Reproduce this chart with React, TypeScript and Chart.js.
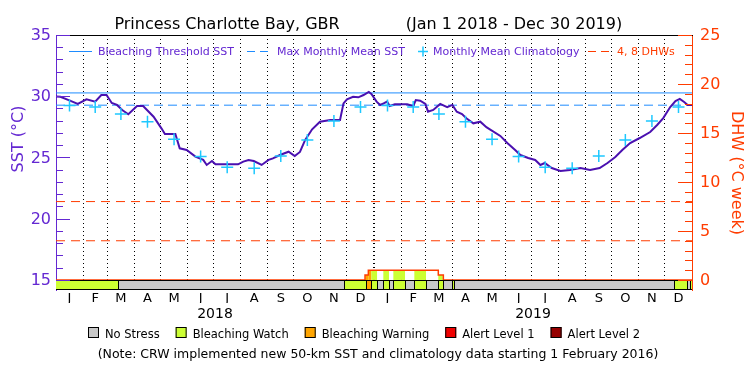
import React, { useEffect, useRef } from 'react';
import { Chart, registerables } from 'chart.js';

Chart.register(...registerables);

// ---------------- data ----------------
const TITLE_SITE = 'Princess Charlotte Bay, GBR';
const TITLE_RANGE = '(Jan 1 2018 - Dec 30 2019)';

const MONTH_LETTERS = ['J', 'F', 'M', 'A', 'M', 'J', 'J', 'A', 'S', 'O', 'N', 'D'];
const MONTH_START_DAYS = [0, 31, 59, 90, 120, 151, 181, 212, 243, 273, 304, 334, 365, 396, 424, 455, 485, 516, 546, 577, 608, 638, 669, 699, 730];
const YEAR_LABELS = ['2018', '2019'];
const YEAR_START_DAYS = [0, 365, 730];

// daily SST (day offset from Jan 1 2018)
const SST_DAYS = [0, 5, 16, 25, 35, 45, 52, 58, 64, 70, 76, 83, 93, 100, 112, 121, 125, 137, 142, 150, 160, 169, 173, 179, 183, 209, 215, 221, 227, 236, 244, 249, 257, 267, 274, 280, 286, 294, 303, 315, 326, 330, 334, 341, 347, 353, 359, 362, 368, 372, 376, 380, 383, 389, 403, 410, 413, 418, 424, 427, 433, 441, 449, 455, 460, 466, 471, 479, 487, 494, 498, 510, 518, 527, 533, 542, 550, 556, 561, 569, 579, 590, 602, 613, 624, 633, 642, 650, 659, 670, 682, 690, 697, 705, 711, 716, 721, 725, 730];
const SST_VALUES = [29.98, 29.96, 29.64, 29.37, 29.75, 29.56, 30.10, 30.10, 29.45, 29.29, 28.88, 28.53, 29.20, 29.20, 28.33, 27.38, 26.92, 26.92, 25.75, 25.61, 25.07, 24.80, 24.39, 24.71, 24.44, 24.44, 24.66, 24.80, 24.71, 24.39, 24.80, 24.93, 25.20, 25.47, 25.12, 25.45, 26.43, 27.30, 27.92, 28.06, 28.06, 29.42, 29.75, 29.96, 29.91, 30.10, 30.35, 30.18, 29.56, 29.29, 29.42, 29.56, 29.20, 29.34, 29.34, 29.20, 29.69, 29.64, 29.37, 28.74, 28.88, 29.37, 29.10, 29.29, 28.74, 28.55, 28.20, 27.79, 27.92, 27.47, 27.30, 26.76, 26.18, 25.61, 25.20, 24.96, 24.80, 24.39, 24.55, 24.14, 23.90, 23.98, 24.14, 23.98, 24.14, 24.55, 25.04, 25.61, 26.18, 26.59, 27.08, 27.65, 28.22, 29.12, 29.61, 29.78, 29.53, 29.29, 29.29];

const CLIMATOLOGY = [29.25, 29.12, 28.55, 27.92, 26.49, 25.07, 24.20, 24.12, 25.12, 26.43, 27.98, 29.12];

const MMM_SST = 29.27;
const THRESHOLD_SST = 30.27;
const DHW_GUIDES = [4, 8];

const DHW_DAYS = [0, 354.7, 358.5, 438.8, 444.6, 730];
const DHW_VALUES = [0, 0.5, 1.0, 0.5, 0, 0];

const STRESS_NAMES = ['No Stress', 'Bleaching Watch', 'Bleaching Warning', 'Alert Level 1', 'Alert Level 2'];
const STRESS_COLORS = ['#c8c8c8', '#ccff33', '#ffa500', '#f00000', '#960000'];
const STRESS_START_DAYS = [0, 71.5, 331, 355.5, 362, 368.5, 375.7, 382.2, 387.2, 400.6, 411.3, 424.7, 438.8, 443.9, 454, 457.2, 709.4, 724.6, 727.2, 730];
const STRESS_LEVELS = [1, 0, 1, 2, 1, 0, 1, 0, 1, 0, 1, 0, 1, 0, 1, 0, 1, 0, 1];

const SST_TICKS = [15, 20, 25, 30, 35];
const DHW_TICKS = [0, 5, 10, 15, 20, 25];
const SST_RANGE = [14.18, 35];
const DHW_RANGE = [(14.18 - 15) / 0.8, 25];

const NOTE = '(Note: CRW implemented new 50-km SST and climatology data starting 1 February 2016)';
const LEGEND_TOP = ['Bleaching Threshold SST', 'Max Monthly Mean SST', 'Monthly Mean Climatology', '4, 8 DHWs'];

// ---------------- styles ----------------
const FONT = '"DejaVu Sans", sans-serif';
const PURPLE = '#6428d2';
const SST_LINE = '#4a10b0';
const BLUE = '#1e8cff';
const CYAN = '#1ec8ff';
const RED = '#ff3c00';

const decorPlugin = {
  id: 'decor',
  beforeDatasetsDraw(chart: any) {
    const { ctx, scales, chartArea } = chart;
    const xs = scales.x;
    const y2 = scales.y2;
    ctx.save();
    ctx.beginPath();
    ctx.rect(chartArea.left, chartArea.top, chartArea.right - chartArea.left, chartArea.bottom - chartArea.top);
    ctx.clip();
    for (let i = 0; i < STRESS_LEVELS.length; i++) {
      const lvl = STRESS_LEVELS[i];
      if (lvl === 0) continue;
      const s = STRESS_START_DAYS[i];
      const e = STRESS_START_DAYS[i + 1];
      for (let j = 0; j < DHW_DAYS.length - 1; j++) {
        const v = DHW_VALUES[j];
        if (v <= 0) continue;
        const a = Math.max(s, DHW_DAYS[j]);
        const b = Math.min(e, DHW_DAYS[j + 1]);
        if (b <= a) continue;
        const x0 = xs.getPixelForValue(a);
        const x1 = xs.getPixelForValue(b);
        const yt = y2.getPixelForValue(v);
        const yb = y2.getPixelForValue(0);
        ctx.fillStyle = STRESS_COLORS[lvl];
        ctx.fillRect(x0, yt, x1 - x0, yb - yt);
      }
    }
    ctx.restore();
  },
  afterDatasetsDraw(chart: any) {
    const { ctx, scales, chartArea } = chart;
    const xs = scales.x;
    const ys = scales.y;
    const y2 = scales.y2;
    // stress bar
    const yTop = Math.round(ys.getPixelForValue(15));
    const yBot = Math.round(ys.getPixelForValue(SST_RANGE[0]));
    ctx.save();
    for (let i = 0; i < STRESS_LEVELS.length; i++) {
      const x0 = Math.round(xs.getPixelForValue(STRESS_START_DAYS[i]));
      const x1 = Math.round(xs.getPixelForValue(STRESS_START_DAYS[i + 1]));
      ctx.fillStyle = STRESS_COLORS[STRESS_LEVELS[i]];
      ctx.fillRect(x0, yTop, x1 - x0, yBot - yTop);
    }
    ctx.strokeStyle = '#000';
    ctx.lineWidth = 1;
    ctx.beginPath();
    ctx.moveTo(chartArea.left, yTop + 0.5);
    ctx.lineTo(chartArea.right, yTop + 0.5);
    ctx.moveTo(chartArea.left, yBot - 0.5);
    ctx.lineTo(chartArea.right, yBot - 0.5);
    for (let i = 1; i < STRESS_START_DAYS.length - 1; i++) {
      const x = Math.round(xs.getPixelForValue(STRESS_START_DAYS[i])) + 0.5;
      ctx.moveTo(x, yTop);
      ctx.lineTo(x, yBot);
    }
    ctx.stroke();
    // top border
    ctx.beginPath();
    ctx.moveTo(chartArea.left, chartArea.top + 0.5);
    ctx.lineTo(chartArea.right + 1, chartArea.top + 0.5);
    ctx.stroke();
    // inward tick marks
    ctx.strokeStyle = PURPLE;
    ctx.beginPath();
    for (let v = 15; v <= 35; v++) {
      const y = Math.round(ys.getPixelForValue(v)) + 0.5;
      const len = v % 5 === 0 ? 14 : 7;
      ctx.moveTo(chartArea.left, y);
      ctx.lineTo(chartArea.left + len, y);
    }
    ctx.stroke();
    ctx.strokeStyle = RED;
    ctx.beginPath();
    for (let v = 0; v <= 25; v++) {
      const y = Math.round(y2.getPixelForValue(v)) + 0.5;
      const len = v % 5 === 0 ? 14 : 7;
      ctx.moveTo(chartArea.right, y);
      ctx.lineTo(chartArea.right - len, y);
    }
    ctx.stroke();
    ctx.restore();
  },
  afterDraw(chart: any) {
    const { ctx } = chart;
    ctx.save();
    // title
    ctx.fillStyle = '#000';
    ctx.font = `16px ${FONT}`;
    ctx.textAlign = 'center';
    ctx.textBaseline = 'alphabetic';
    ctx.fillText(TITLE_SITE, 227, 28.5);
    ctx.fillText(TITLE_RANGE, 514, 28.5);
    // axis titles
    ctx.save();
    ctx.translate(23, 139);
    ctx.rotate(-Math.PI / 2);
    ctx.fillStyle = PURPLE;
    ctx.textBaseline = 'alphabetic';
    ctx.fillText('SST (°C)', 0, 0);
    ctx.restore();
    ctx.save();
    ctx.translate(732, 173);
    ctx.rotate(Math.PI / 2);
    ctx.fillStyle = RED;
    ctx.fillText('DHW (°C week)', 0, 0);
    ctx.restore();

    // in-plot legend
    const ly = 51;
    ctx.font = `11px ${FONT}`;
    ctx.textAlign = 'left';
    ctx.textBaseline = 'alphabetic';
    ctx.lineWidth = 1;
    // threshold
    ctx.strokeStyle = BLUE;
    ctx.beginPath();
    ctx.moveTo(69, ly + 0.5);
    ctx.lineTo(92, ly + 0.5);
    ctx.stroke();
    ctx.fillStyle = PURPLE;
    ctx.fillText(LEGEND_TOP[0], 98, ly + 4);
    // MMM
    ctx.setLineDash([8, 5]);
    ctx.beginPath();
    ctx.moveTo(247, ly + 0.5);
    ctx.lineTo(268, ly + 0.5);
    ctx.stroke();
    ctx.setLineDash([]);
    ctx.fillText(LEGEND_TOP[1], 277, ly + 4);
    // climatology
    ctx.strokeStyle = CYAN;
    ctx.lineWidth = 1.5;
    ctx.beginPath();
    ctx.moveTo(418, ly + 0.5);
    ctx.lineTo(428, ly + 0.5);
    ctx.moveTo(423, ly - 4.5);
    ctx.lineTo(423, ly + 5.5);
    ctx.stroke();
    ctx.lineWidth = 1;
    ctx.fillText(LEGEND_TOP[2], 433, ly + 4);
    // DHW
    ctx.strokeStyle = RED;
    ctx.setLineDash([8, 5]);
    ctx.beginPath();
    ctx.moveTo(588, ly + 0.5);
    ctx.lineTo(612, ly + 0.5);
    ctx.stroke();
    ctx.setLineDash([]);
    ctx.fillStyle = RED;
    ctx.fillText(LEGEND_TOP[3], 617, ly + 4);

    // bottom stress legend
    ctx.font = `11.5px ${FONT}`;
    const widths = STRESS_NAMES.map((n) => ctx.measureText(n).width);
    const box = 11;
    const gapBT = 6;
    const gap = 16;
    const total = widths.reduce((a, w) => a + w + box + gapBT, 0) + gap * (STRESS_NAMES.length - 1);
    let x = Math.round(364 - total / 2);
    const by = 333;
    STRESS_NAMES.forEach((n, i) => {
      ctx.fillStyle = STRESS_COLORS[i];
      ctx.fillRect(x, by - 6, box, box);
      ctx.strokeStyle = '#000';
      ctx.strokeRect(x + 0.5, by - 5.5, box - 1, box - 1);
      ctx.fillStyle = '#000';
      ctx.fillText(n, x + box + gapBT, by + 4.5);
      x += box + gapBT + widths[i] + gap;
    });
    // note
    ctx.font = `12.5px ${FONT}`;
    ctx.textAlign = 'center';
    ctx.fillText(NOTE, 378, 358);
    ctx.restore();
  },
};

export default function App() {
  const ref = useRef<HTMLCanvasElement | null>(null);
  useEffect(() => {
    if (!ref.current) return;
    Chart.defaults.font.family = FONT;
    const monthMids = MONTH_START_DAYS.slice(0, -1).map((d, i) => (d + MONTH_START_DAYS[i + 1]) / 2);
    const yearMids = YEAR_START_DAYS.slice(0, -1).map((d, i) => (d + YEAR_START_DAYS[i + 1]) / 2);
    const xMin = MONTH_START_DAYS[0];
    const xMax = MONTH_START_DAYS[MONTH_START_DAYS.length - 1];

    const chart = new Chart(ref.current, {
      type: 'line',
      data: {
        datasets: [
          {
            label: 'Monthly Mean Climatology',
            data: monthMids.map((d, i) => ({ x: d, y: CLIMATOLOGY[i % 12] })),
            showLine: false,
            pointStyle: 'cross',
            pointRadius: 6,
            pointBorderColor: CYAN,
            pointBorderWidth: 1.5,
            xAxisID: 'x',
            yAxisID: 'y',
          },
          {
            label: 'SST',
            data: SST_DAYS.map((d, i) => ({ x: d, y: SST_VALUES[i] })),
            borderColor: SST_LINE,
            borderWidth: 2,
            pointRadius: 0,
            tension: 0,
            xAxisID: 'x',
            yAxisID: 'y',
          },
          {
            label: 'Bleaching Threshold SST',
            data: [{ x: xMin, y: THRESHOLD_SST }, { x: xMax, y: THRESHOLD_SST }],
            borderColor: BLUE,
            borderWidth: 1,
            pointRadius: 0,
            xAxisID: 'x',
            yAxisID: 'y',
          },
          {
            label: 'Max Monthly Mean SST',
            data: [{ x: xMin, y: MMM_SST }, { x: xMax, y: MMM_SST }],
            borderColor: BLUE,
            borderWidth: 1,
            borderDash: [9, 5],
            pointRadius: 0,
            xAxisID: 'x',
            yAxisID: 'y',
          },
          ...DHW_GUIDES.map((g) => ({
            label: `${g} DHW`,
            data: [{ x: xMin, y: g }, { x: xMax, y: g }],
            borderColor: RED,
            borderWidth: 1,
            borderDash: [9, 6],
            pointRadius: 0,
            xAxisID: 'x',
            yAxisID: 'y2',
          })),
          {
            label: 'DHW',
            data: DHW_DAYS.map((d, i) => ({ x: d, y: DHW_VALUES[i] })),
            borderColor: RED,
            borderWidth: 1.5,
            stepped: true,
            pointRadius: 0,
            xAxisID: 'x',
            yAxisID: 'y2',
          },
        ],
      },
      options: {
        responsive: false,
        animation: false,
        events: [],
        layout: { padding: { top: 35, left: 0, right: 0, bottom: 0 } },
        plugins: {
          legend: { display: false },
          tooltip: { enabled: false },
          title: { display: false },
        },
        scales: {
          x: {
            type: 'linear',
            position: 'bottom',
            weight: 0,
            min: xMin,
            max: xMax,
            afterBuildTicks: (s: any) => {
              s.ticks = MONTH_START_DAYS.slice(1, -1).map((v) => ({ value: v }));
            },
            afterFit: (s: any) => {
              s.height = 0;
            },
            ticks: { display: false },
            grid: {
              display: true,
              drawTicks: false,
              color: '#000',
              lineWidth: (c: any) => (c.tick && c.tick.value === YEAR_START_DAYS[1] ? 2 : 1),
            },
            border: { display: false, dash: [1, 3] },
          },
          x2: {
            type: 'linear',
            position: 'bottom',
            weight: 1,
            min: xMin,
            max: xMax,
            afterBuildTicks: (s: any) => {
              s.ticks = monthMids.map((v) => ({ value: v }));
            },
            afterFit: (s: any) => {
              s.height = 13;
            },
            ticks: {
              autoSkip: false,
              maxRotation: 0,
              color: '#000',
              font: { size: 13 },
              padding: 1,
              callback: (_v: any, i: number) => MONTH_LETTERS[i % 12],
            },
            grid: { display: false, drawTicks: false },
            border: { display: false },
          },
          x3: {
            type: 'linear',
            position: 'bottom',
            weight: 2,
            min: xMin,
            max: xMax,
            afterBuildTicks: (s: any) => {
              s.ticks = yearMids.map((v) => ({ value: v }));
            },
            afterFit: (s: any) => {
              s.height = 72;
            },
            ticks: {
              autoSkip: false,
              maxRotation: 0,
              color: '#000',
              font: { size: 14 },
              padding: 3,
              callback: (_v: any, i: number) => YEAR_LABELS[i],
            },
            grid: { display: false, drawTicks: false },
            border: { display: false },
          },
          y: {
            type: 'linear',
            position: 'left',
            min: SST_RANGE[0],
            max: SST_RANGE[1],
            afterBuildTicks: (s: any) => {
              s.ticks = SST_TICKS.map((v) => ({ value: v }));
            },
            afterFit: (s: any) => {
              s.width = 56;
            },
            ticks: {
              color: PURPLE,
              font: { size: 16 },
              padding: 5,
              labelOffset: 1,
              callback: (v: any) => String(v),
            },
            grid: { display: false, drawTicks: false },
            border: { display: true, color: PURPLE, width: 1 },
          },
          y2: {
            type: 'linear',
            position: 'right',
            min: DHW_RANGE[0],
            max: DHW_RANGE[1],
            afterBuildTicks: (s: any) => {
              s.ticks = DHW_TICKS.map((v) => ({ value: v }));
            },
            afterFit: (s: any) => {
              s.width = 58;
            },
            ticks: {
              color: RED,
              font: { size: 16 },
              padding: 8,
              labelOffset: 1,
              callback: (v: any) => String(v),
            },
            grid: { display: false, drawTicks: false },
            border: { display: true, color: RED, width: 1 },
          },
        },
      } as any,
      plugins: [decorPlugin],
    });
    return () => chart.destroy();
  }, []);

  return (
    <div style={{ position: 'absolute', left: 0, top: 0, width: 750, height: 375, background: '#fff' }}>
      <canvas ref={ref} width={750} height={375} />
    </div>
  );
}
